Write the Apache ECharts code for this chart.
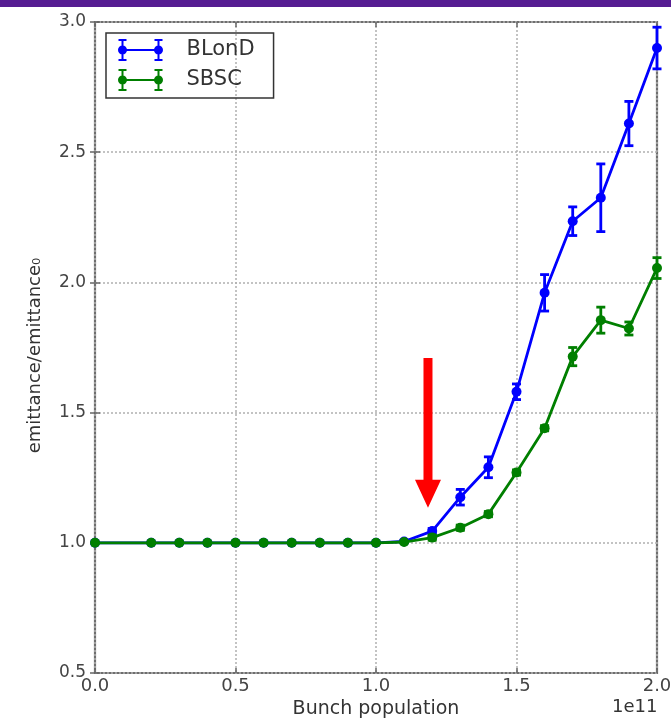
<!DOCTYPE html>
<html>
<head>
<meta charset="utf-8">
<title>emittance vs bunch population</title>
<script src="https://cdn.jsdelivr.net/npm/echarts@6/dist/echarts.min.js"></script>
<style>
  html, body { margin: 0; padding: 0; background: #fff; }
  #chart { width: 671px; height: 719px; }
</style>
</head>
<body>
<div id="chart"></div>
<script>
// bunch population in units of 1e11
var population = [0.0, 0.2, 0.3, 0.4, 0.5, 0.6, 0.7, 0.8, 0.9, 1.0, 1.1, 1.2, 1.3, 1.4, 1.5, 1.6, 1.7, 1.8, 1.9, 2.0];
var blond = [1.0, 1.0, 1.0, 1.0, 1.0, 1.0, 1.0, 1.0, 1.0, 1.0, 1.005, 1.045, 1.175, 1.29, 1.58, 1.96, 2.235, 2.325, 2.61, 2.9];
var blondErr = [0, 0, 0, 0, 0, 0, 0, 0, 0, 0, 0.005, 0.01, 0.03, 0.04, 0.03, 0.07, 0.055, 0.13, 0.085, 0.08];
var sbsc = [1.0, 1.0, 1.0, 1.0, 1.0, 1.0, 1.0, 1.0, 1.0, 1.0, 1.003, 1.02, 1.058, 1.11, 1.27, 1.44, 1.715, 1.855, 1.823, 2.055];
var sbscErr = [0, 0, 0, 0, 0, 0, 0, 0, 0, 0, 0, 0.01, 0.01, 0.01, 0.01, 0.01, 0.035, 0.05, 0.025, 0.04];
var xTicks = [0.0, 0.5, 1.0, 1.5, 2.0];
var yTicks = [0.5, 1.0, 1.5, 2.0, 2.5, 3.0];
// red arrow: x, tail y, tip y
var arrow = [[1.185, 1.71, 1.135]];

var BLUE = '#0000ff';
var GREEN = '#007f00';
var FONT = 'DejaVu Sans';

// legend icon: line with a dot and a capped error bar at each end
// (all subpaths clockwise so overlaps stay filled)
var errIcon = 'path://M4,1h2v20h-2z M1,0h8v2h-8z M1,20h8v2h-8z ' +
  'M40,1h2v20h-2z M37,0h8v2h-8z M37,20h8v2h-8z M5,10h36v2h-36z ' +
  'M0.5,11a4.5,4.5 0 1,1 9,0a4.5,4.5 0 1,1 -9,0z M36.5,11a4.5,4.5 0 1,1 9,0a4.5,4.5 0 1,1 -9,0z';

function pairs(vals) {
  return population.map(function (p, i) { return [p, vals[i]]; });
}

function errData(vals, errs) {
  var out = [];
  population.forEach(function (p, i) {
    if (errs[i] > 0) out.push([p, vals[i] - errs[i], vals[i] + errs[i]]);
  });
  return out;
}

function errRender(color) {
  return function (params, api) {
    var x = api.value(0);
    var top = api.coord([x, api.value(2)]);
    var bot = api.coord([x, api.value(1)]);
    var w = 4.5;
    var st = { stroke: color, lineWidth: 2.8 };
    return {
      type: 'group',
      children: [
        { type: 'line', shape: { x1: top[0], y1: top[1], x2: bot[0], y2: bot[1] }, style: st },
        { type: 'line', shape: { x1: top[0] - w, y1: top[1], x2: top[0] + w, y2: top[1] }, style: st },
        { type: 'line', shape: { x1: bot[0] - w, y1: bot[1], x2: bot[0] + w, y2: bot[1] }, style: st }
      ]
    };
  };
}

var chart = echarts.init(document.getElementById('chart'));

var tickAxis = {
  min: 0, max: 2, interval: 0.5,
  axisLine: { show: false },
  axisTick: { show: true, inside: true, length: 5, lineStyle: { color: '#666', width: 1.5 } },
  axisLabel: { show: false },
  splitLine: { show: false }
};

var gridLine = { show: true, lineStyle: { color: '#b0b0b0', type: [2, 2], width: 1.5 } };

var option = {
  backgroundColor: '#fff',
  animation: false,
  textStyle: { fontFamily: FONT },
  grid: {
    left: 95, right: 14, top: 22, bottom: 46,
    outerBoundsMode: 'none',
    show: true, borderColor: '#6e6e6e', borderWidth: 2.2
  },
  legend: {
    left: 106, top: 33,
    orient: 'vertical',
    itemWidth: 46, itemHeight: 22, itemGap: 8,
    padding: [6, 19, 7, 12],
    borderColor: '#333', borderWidth: 1.5, borderRadius: 0,
    textStyle: { fontFamily: FONT, fontSize: 21, color: '#333', padding: [0, 0, 0, 18] },
    data: [
      { name: 'BLonD', icon: errIcon, itemStyle: { color: BLUE, borderWidth: 0 } },
      { name: 'SBSC', icon: errIcon, itemStyle: { color: GREEN, borderWidth: 0 } }
    ]
  },
  xAxis: [{
    type: 'value', min: 0, max: 2, interval: 0.5,
    name: 'Bunch population', nameLocation: 'middle', nameGap: 27,
    nameTextStyle: { fontFamily: FONT, fontSize: 19, color: '#333' },
    axisLine: { show: false },
    axisTick: { show: true, inside: true, length: 5, lineStyle: { color: '#666', width: 1.5 } },
    axisLabel: {
      fontFamily: FONT, fontSize: 18, color: '#444', margin: 4,
      customValues: xTicks,
      formatter: function (v) { return v.toFixed(1); }
    },
    splitLine: gridLine
  }, Object.assign({ type: 'value', position: 'top' }, tickAxis)],
  yAxis: [{
    type: 'value', min: 0.5, max: 3.0, interval: 0.5,
    name: 'emittance/emittance₀', nameLocation: 'middle', nameGap: 51,
    nameTextStyle: { fontFamily: FONT, fontSize: 18, color: '#333', padding: [0, 16, 0, 0] },
    axisLine: { show: false },
    axisTick: { show: true, inside: true, length: 5, lineStyle: { color: '#666', width: 1.5 } },
    axisLabel: {
      fontFamily: FONT, fontSize: 17, color: '#444', margin: 9,
      customValues: yTicks,
      formatter: function (v) { return v.toFixed(1); }
    },
    splitLine: gridLine
  }, Object.assign({ type: 'value', position: 'right' }, tickAxis, { min: 0.5, max: 3.0 })],
  graphic: [
    { type: 'rect', shape: { x: 0, y: 0, width: 671, height: 7 }, style: { fill: '#561d92' }, z: 10 },
    { type: 'text', left: 612, top: 698, style: { text: '1e11', font: '18px "DejaVu Sans"', fill: '#333' } }
  ],
  series: [
    {
      name: 'BLonD', type: 'line', data: pairs(blond),
      symbol: 'circle', symbolSize: 10,
      lineStyle: { color: BLUE, width: 2.8 },
      itemStyle: { color: BLUE },
      z: 3
    },
    {
      name: 'BLonD err', type: 'custom', data: errData(blond, blondErr),
      renderItem: errRender(BLUE), z: 3
    },
    {
      name: 'SBSC', type: 'line', data: pairs(sbsc),
      symbol: 'circle', symbolSize: 10,
      lineStyle: { color: GREEN, width: 2.8 },
      itemStyle: { color: GREEN },
      z: 4
    },
    {
      name: 'SBSC err', type: 'custom', data: errData(sbsc, sbscErr),
      renderItem: errRender(GREEN), z: 4
    },
    {
      name: 'arrow', type: 'custom', data: arrow, z: 5,
      renderItem: function (params, api) {
        var x = api.value(0);
        var tail = api.coord([x, api.value(1)]);
        var tip = api.coord([x, api.value(2)]);
        var sw = 4.5, hw = 13, hh = 28;
        var cx = tail[0];
        return {
          type: 'polygon',
          shape: {
            points: [
              [cx - sw, tail[1]], [cx + sw, tail[1]], [cx + sw, tip[1] - hh],
              [cx + hw, tip[1] - hh], [cx, tip[1]], [cx - hw, tip[1] - hh],
              [cx - sw, tip[1] - hh]
            ]
          },
          style: { fill: '#ff0000' }
        };
      }
    }
  ]
};

chart.setOption(option);
</script>
</body>
</html>
